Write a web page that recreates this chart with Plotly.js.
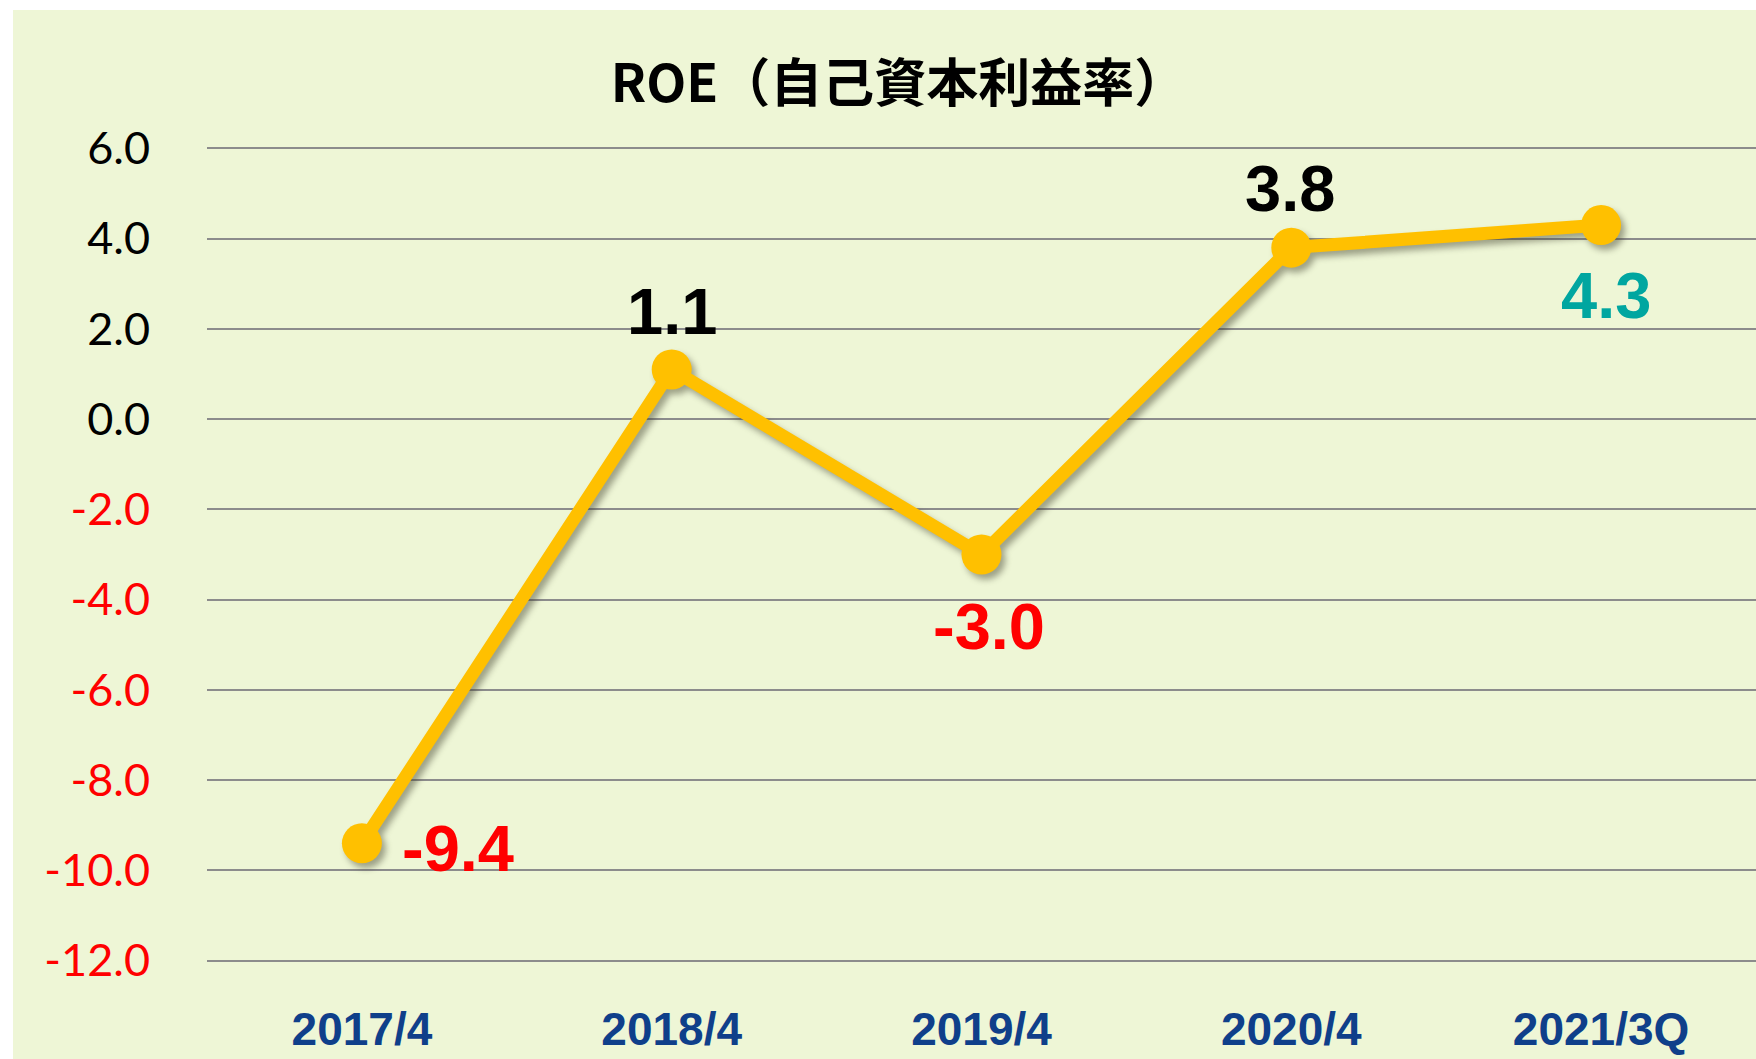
<!DOCTYPE html>
<html>
<head>
<meta charset="utf-8">
<script src="https://cdn.plot.ly/plotly-3.0.1.min.js"></script>
<style>
  html, body { margin: 0; padding: 0; background: #ffffff; }
  #chart { position: absolute; left: 13px; top: 10px; width: 1743px; height: 1049px; }
  .scatterlayer .trace { filter: drop-shadow(4px 5px 3px rgba(60,60,40,0.45)); }
</style>
</head>
<body>
<div id="chart"></div>
<script>
const periods = ['2017/4', '2018/4', '2019/4', '2020/4', '2021/3Q'];
const roe = [-9.4, 1.1, -3.0, 3.8, 4.3];
const yTickVals = [6, 4, 2, 0, -2, -4, -6, -8, -10, -12];
const chartTitle = 'ROE（自己資本利益率）';

const yTickText = yTickVals.map(v => v < 0
  ? '<span style="color:#ff0000">' + v.toFixed(1) + '</span>'
  : v.toFixed(1));

// label offsets (style only)
const labelShift = [
  {xanchor: 'left', xshift: 38, yshift: -5},
  {xanchor: 'center', xshift: 0, yshift: 58},
  {xanchor: 'center', xshift: 7, yshift: -72},
  {xanchor: 'center', xshift: -1, yshift: 59},
  {xanchor: 'center', xshift: 5, yshift: -70}
];
const annotations = roe.map((v, i) => ({
  x: periods[i], y: v, xref: 'x', yref: 'y',
  text: '<b>' + v.toFixed(1) + '</b>',
  showarrow: false,
  xanchor: labelShift[i].xanchor, yanchor: 'middle',
  xshift: labelShift[i].xshift, yshift: labelShift[i].yshift,
  font: {family: 'Liberation Sans, Arial, sans-serif', size: 65,
         color: v < 0 ? '#ff0000' : (i === roe.length - 1 ? '#00a6a0' : '#000000')}
}));

const trace = {
  x: periods, y: roe, type: 'scatter', mode: 'lines+markers',
  line: {color: '#ffc000', width: 13},
  marker: {color: '#ffc000', size: 40},
  cliponaxis: false, hoverinfo: 'skip'
};

const layout = {
  width: 1743, height: 1049,
  margin: {l: 194, r: 0, t: 137, b: 97},
  paper_bgcolor: '#eef6d6', plot_bgcolor: '#eef6d6',
  showlegend: false,
  title: {
    text: '<b>' + chartTitle + '</b>',
    xref: 'container', x: 0.508, yref: 'container', y: 1 - 74 / 1049,
    xanchor: 'center', yanchor: 'middle',
    font: {family: 'Noto Sans CJK JP, sans-serif', size: 52, color: '#000000'}
  },
  xaxis: {
    type: 'category', range: [-0.5, 4.5],
    showgrid: false, zeroline: false, showline: false,
    ticks: '', ticklabelstandoff: 36,
    tickfont: {family: 'Liberation Sans, Arial, sans-serif', size: 46, color: '#0f3f8a', weight: 'bold'}
  },
  yaxis: {
    range: [-12.03, 6.03], tickvals: yTickVals, ticktext: yTickText,
    showgrid: true, gridcolor: '#8c8c8c', gridwidth: 2,
    zeroline: false, showline: false, ticks: '',
    ticklabelstandoff: 56,
    tickfont: {family: 'Lato, sans-serif', size: 45, color: '#000000'}
  },
  annotations: annotations
};

Plotly.newPlot('chart', [trace], layout, {displayModeBar: false, staticPlot: true});
</script>
</body>
</html>
